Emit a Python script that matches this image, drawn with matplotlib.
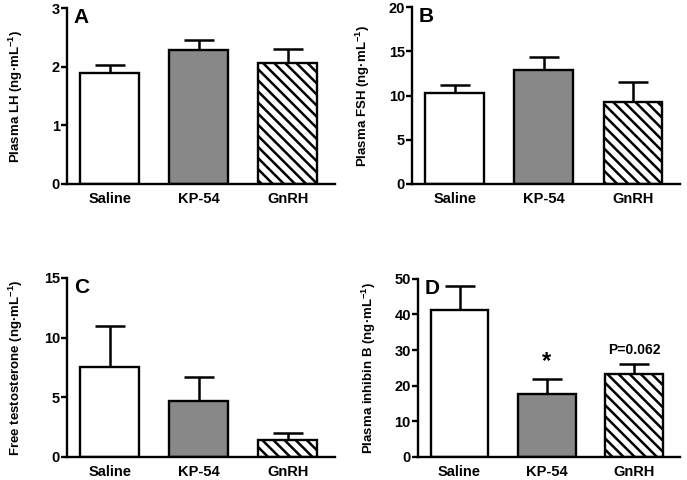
import matplotlib
matplotlib.use('Agg')
import matplotlib.pyplot as plt

groups = ['Saline', 'KP-54', 'GnRH']

lh = [1.89, 2.29, 2.07]
lh_err = [0.14, 0.16, 0.23]

fsh = [10.3, 12.9, 9.25]
fsh_err = [0.85, 1.45, 2.25]

testo = [7.57, 4.71, 1.40]
testo_err = [3.42, 1.99, 0.62]

inhb = [41.2, 17.7, 23.4]
inhb_err = [6.8, 4.3, 2.7]

plt.rcParams['font.family'] = 'Liberation Sans'
plt.rcParams['font.weight'] = 'bold'
plt.rcParams['mathtext.fontset'] = 'custom'
plt.rcParams['mathtext.rm'] = 'Liberation Sans:bold'
plt.rcParams['mathtext.bf'] = 'Liberation Sans:bold'
plt.rcParams['hatch.linewidth'] = 1.8

fills = ['white', '#888888', 'white']
hatches = [None, None, '\\\\\\']


def bar_panel(ax, values, errs, ylim, ticks, ylabel, letter):
    # Bars with only the upper error bar.
    x = range(len(groups))
    ax.bar(x, values, width=0.66, color=fills, edgecolor='black',
           linewidth=1.7, hatch=hatches, zorder=2)
    ax.errorbar(x, values, yerr=[[0] * len(errs), errs], fmt='none',
                ecolor='black', elinewidth=1.8, capsize=11, capthick=1.8, zorder=1)
    ax.set_xlim(-0.48, 2.53)
    ax.set_ylim(*ylim)
    ax.set_yticks(ticks)
    ax.set_xticks(list(x))
    ax.set_xticklabels(groups, fontsize=10.5, fontweight='bold')
    ax.tick_params(axis='x', length=0, pad=6)
    ax.tick_params(axis='y', direction='out', length=4, width=1.7, labelsize=10.5, pad=1)
    for lab in ax.get_yticklabels():
        lab.set_fontweight('bold')
    ax.spines['top'].set_visible(False)
    ax.spines['right'].set_visible(False)
    ax.spines['left'].set_linewidth(1.7)
    ax.spines['bottom'].set_linewidth(1.7)
    ax.set_ylabel(ylabel, fontsize=9.5, fontweight='bold')
    ax.text(0.025, 1.0, letter, transform=ax.transAxes, fontsize=15,
            fontweight='bold', va='top', ha='left')


fig = plt.figure(figsize=(6.87, 4.8), dpi=100)
ax_a = fig.add_axes([0.0975, 0.6167, 0.39, 0.3663])
ax_b = fig.add_axes([0.5997, 0.6167, 0.3903, 0.3683])
ax_c = fig.add_axes([0.0975, 0.048, 0.39, 0.373])
ax_d = fig.add_axes([0.608, 0.048, 0.382, 0.371])

bar_panel(ax_a, lh, lh_err, (0, 3), [0, 1, 2, 3], r'Plasma LH (ng·mL$^{-1}$)', 'A')
bar_panel(ax_b, fsh, fsh_err, (0, 20), [0, 5, 10, 15, 20], r'Plasma FSH (ng·mL$^{-1}$)', 'B')
bar_panel(ax_c, testo, testo_err, (0, 15), [0, 5, 10, 15], r'Free testosterone (ng·mL$^{-1}$)', 'C')
bar_panel(ax_d, inhb, inhb_err, (0, 50), [0, 10, 20, 30, 40, 50], r'Plasma inhibin B (ng·mL$^{-1}$)', 'D')

ax_d.text(1, inhb[1] + inhb_err[1] + 1.5, '*', ha='center', va='bottom', fontsize=17, fontweight='bold')
ax_d.text(2, inhb[2] + inhb_err[2] + 2.0, 'P=0.062', ha='center', va='bottom', fontsize=10, fontweight='bold')

for ax in (ax_a, ax_c):
    ax.yaxis.set_label_coords(-0.155, 0.5)
for ax in (ax_b, ax_d):
    ax.yaxis.set_label_coords(-0.15, 0.5)

plt.savefig('out.png', dpi=100)
plt.close()
